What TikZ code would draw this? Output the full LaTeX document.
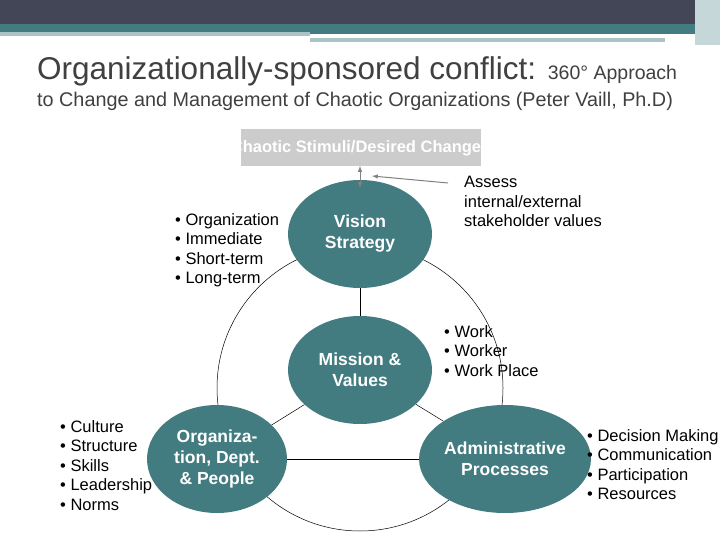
\documentclass[tikz,border=0pt]{standalone}
\usepackage{fontspec}
\setmainfont{Liberation Sans}
\usetikzlibrary{shapes.geometric}
\definecolor{teal1}{HTML}{427B80}
\definecolor{dark}{HTML}{424656}
\definecolor{txt}{HTML}{404040}
\begin{document}
\begin{tikzpicture}[x=1pt,y=-1pt,
  ell/.style={ellipse,fill=teal1,minimum width=144pt,minimum height=108pt,inner sep=0pt,text=white,font=\bfseries\fontsize{17.5}{21}\selectfont,align=center},
  lst/.style={anchor=north west,align=left,font=\fontsize{16.5}{19.5}\selectfont,inner sep=0pt},
  ln/.style={draw=black,line width=0.5pt}]
\useasboundingbox (0,0) rectangle (720,540);
\fill[white] (0,0) rectangle (720,540);
\fill[dark] (0,0) rectangle (720,24);
\fill[teal1] (0,24) rectangle (720,34);
\fill[teal1!45] (0,32) rectangle (310,36);
\fill[teal1!45] (310,38) rectangle (665,42);
\fill[teal1!30] (695,0) rectangle (720,45);
\node[anchor=base west,inner sep=0pt,text=txt] (t1) at (37,80) {\fontsize{31.5}{36}\selectfont Organizationally-sponsored conflict: \fontsize{19.5}{22}\selectfont 360° Approach};
\node[anchor=base west,inner sep=0pt,text=txt] (t2) at (37,107) {\fontsize{19.8}{22}\selectfont to Change and Management of Chaotic Organizations (Peter Vaill, Ph.D)};
\draw[ln] (360,388) circle (143);
\node[ell] (vis) at (360,234) {Vision\\Strategy};
\node[ell] (mis) at (360,370) {Mission \&\\Values};
\node[ell,minimum width=140pt] (org) at (217,459) {Organiza-\\tion, Dept.\\\& People};
\node[ell] (adm) at (505,459) {Administrative\\Processes};
\draw[ln] (vis) -- (mis);
\draw[ln] (mis) -- (org);
\draw[ln] (mis) -- (adm);
\draw[ln] (org) -- (adm);
\fill[gray!40] (241,129) rectangle (481,166);
\begin{scope}
\clip (241,129) rectangle (481,166);
\node[text=white,font=\bfseries\fontsize{16.5}{18}\selectfont] (box) at (356,148) {Chaotic Stimuli/Desired Change};
\end{scope}
\coordinate (bb) at (360,166);
\coordinate (vt) at (360,188);
\draw[gray,line width=1pt,<->,>=latex] (bb) -- (vt);
\node[lst] (ass) at (464,176) {Assess\\internal/external\\stakeholder values};
\coordinate (ae) at (372,176);
\coordinate (as) at (448,183);
\draw[gray,line width=1pt,->,>=latex] (as) -- (ae);
\node[lst] (l1) at (175,213) {• Organization\\• Immediate\\• Short-term\\• Long-term};
\node[lst] (l2) at (444,325) {• Work\\• Worker\\• Work Place};
\node[lst] (l3) at (60,420) {• Culture\\• Structure\\• Skills\\• Leadership\\• Norms};
\node[lst] (l4) at (587,429) {• Decision Making\\• Communication\\• Participation\\• Resources};
\end{tikzpicture}
\end{document}
